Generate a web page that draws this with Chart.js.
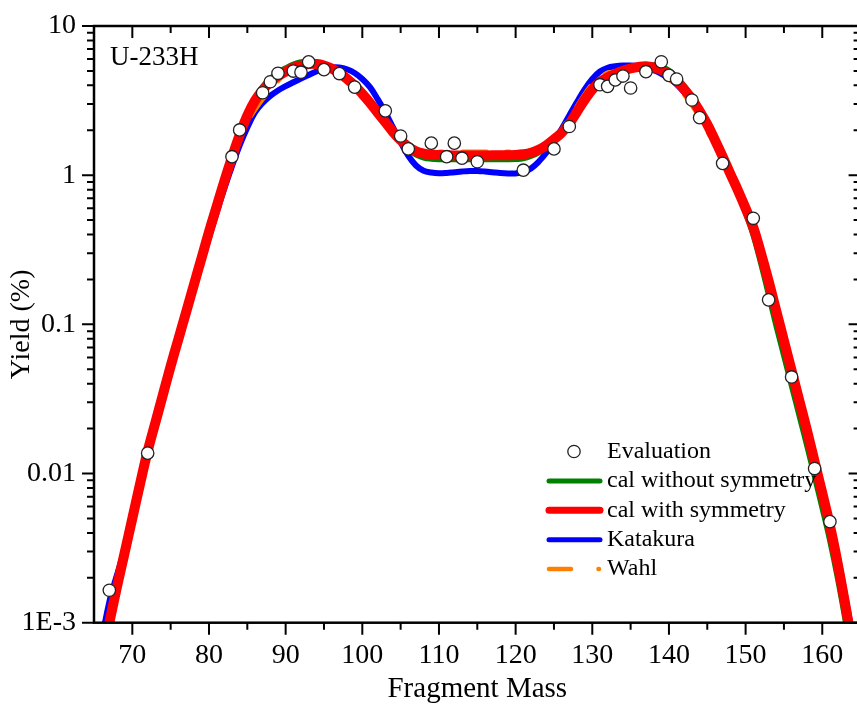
<!DOCTYPE html>
<html>
<head>
<meta charset="utf-8">
<title>U-233H fragment mass yields</title>
<script src="https://cdn.jsdelivr.net/npm/chart.js@4.4.1/dist/chart.umd.min.js"></script>
<style>
  html, body { margin: 0; padding: 0; background: #fff; overflow: hidden; }
  canvas { display: block; }
</style>
</head>
<body>
<canvas id="yieldChart" width="870" height="704"></canvas>
<script>
// Evaluated yields (open circles)
const evalMass = [67, 72, 83, 84, 87, 88, 89, 91, 92, 93, 95, 97, 99, 103, 105, 106, 109, 111, 112, 113, 115,
                  121, 125, 127, 131, 132, 133, 134, 135, 137, 139, 140, 141, 143, 144, 147, 151, 153, 156, 159, 161];
const evalYield = [0.00165, 0.0137, 1.33, 2.01, 3.57, 4.23, 4.82, 4.99, 4.90, 5.75, 5.10, 4.80, 3.89, 2.70, 1.83, 1.50, 1.64, 1.33, 1.64, 1.30, 1.23,
                   1.08, 1.50, 2.12, 4.04, 3.94, 4.35, 4.62, 3.84, 4.94, 5.76, 4.67, 4.41, 3.19, 2.43, 1.20, 0.514, 0.146, 0.0444, 0.0108, 0.00476];

// Mass grid shared by the calculated curves
const massGrid = [65, 66, 67, 68, 69, 70, 71, 72, 73, 74, 75, 76, 77, 78, 79, 80, 81, 82, 83, 84,
                  85, 86, 87, 88, 89, 90, 91, 92, 93, 94, 95, 96, 97, 98, 99, 100, 101, 102, 103, 104,
                  105, 106, 107, 108, 109, 110, 111, 112, 113, 114, 115, 116, 117, 118, 119, 120, 121, 122, 123, 124,
                  125, 126, 127, 128, 129, 130, 131, 132, 133, 134, 135, 136, 137, 138, 139, 140, 141, 142, 143, 144,
                  145, 146, 147, 148, 149, 150, 151, 152, 153, 154, 155, 156, 157, 158, 159, 160, 161, 162, 163, 164, 165];

const calWithSym = [0.00032, 0.00056, 0.0010, 0.00174, 0.00295, 0.0050, 0.0085, 0.0141, 0.0219, 0.0339, 0.0525, 0.0794, 0.120, 0.182, 0.275, 0.417, 0.617, 0.912, 1.318, 1.862,
                    2.512, 3.162, 3.715, 4.217, 4.624, 4.955, 5.248, 5.433, 5.559, 5.559, 5.433, 5.188, 4.842, 4.416, 3.981, 3.508, 3.055, 2.630, 2.265, 1.950,
                    1.718, 1.549, 1.445, 1.396, 1.374, 1.365, 1.358, 1.355, 1.355, 1.355, 1.355, 1.355, 1.358, 1.358, 1.361, 1.365, 1.380, 1.413, 1.479, 1.585,
                    1.738, 1.928, 2.213, 2.661, 3.199, 3.758, 4.217, 4.519, 4.786, 5.012, 5.188, 5.309, 5.370, 5.272, 5.070, 4.732, 4.266, 3.758, 3.236, 2.692,
                    2.188, 1.718, 1.334, 1.023, 0.790, 0.600, 0.447, 0.300, 0.195, 0.123, 0.0776, 0.0490, 0.0309, 0.0195, 0.0120, 0.00741, 0.00447, 0.00251, 0.00132, 0.00066, 0.00032];

const calWithoutSym = [0.00032, 0.00056, 0.0010, 0.00174, 0.00295, 0.0050, 0.0085, 0.0141, 0.0219, 0.0339, 0.0525, 0.0794, 0.120, 0.182, 0.275, 0.417, 0.617, 0.912, 1.318, 1.862,
                       2.630, 3.311, 3.936, 4.467, 4.898, 5.248, 5.559, 5.754, 5.821, 5.754, 5.559, 5.248, 4.842, 4.365, 3.890, 3.428, 2.985, 2.570, 2.213, 1.905,
                       1.660, 1.479, 1.365, 1.303, 1.279, 1.270, 1.270, 1.270, 1.270, 1.270, 1.270, 1.270, 1.270, 1.270, 1.270, 1.274, 1.288, 1.334, 1.413, 1.549,
                       1.738, 1.950, 2.239, 2.692, 3.236, 3.802, 4.266, 4.571, 4.842, 5.070, 5.248, 5.395, 5.495, 5.495, 5.370, 5.070, 4.571, 3.981, 3.388, 2.786,
                       2.239, 1.738, 1.303, 0.977, 0.760, 0.550, 0.390, 0.250, 0.155, 0.0955, 0.0603, 0.0380, 0.0240, 0.0151, 0.00933, 0.00575, 0.00347, 0.00195, 0.00102, 0.00051, 0.00025];

const katakura = [0.00040, 0.00076, 0.00138, 0.00209, 0.00309, 0.0049, 0.0083, 0.0138, 0.0214, 0.0331, 0.0513, 0.0776, 0.117, 0.174, 0.257, 0.380, 0.562, 0.813, 1.148, 1.585,
                  2.089, 2.630, 3.050, 3.400, 3.700, 3.950, 4.200, 4.450, 4.700, 4.955, 5.152, 5.272, 5.272, 5.129, 4.842, 4.416, 3.890, 3.236, 2.630, 2.089,
                  1.660, 1.349, 1.161, 1.072, 1.042, 1.030, 1.035, 1.047, 1.059, 1.067, 1.067, 1.059, 1.047, 1.035, 1.028, 1.028, 1.047, 1.109, 1.230, 1.413,
                  1.679, 2.042, 2.512, 3.090, 3.758, 4.416, 4.955, 5.248, 5.370, 5.433, 5.433, 5.370, 5.248, 5.047, 4.786, 4.467, 4.074, 3.589, 3.090, 2.600,
                  2.138, 1.679, 1.318, 1.000, 0.776, 0.589, 0.437, 0.295, 0.190, 0.120, 0.0759, 0.0479, 0.0302, 0.0195, 0.0126, 0.00794, 0.00490, 0.00282, 0.00151, 0.00079, 0.00040];

const wahl = [0.00032, 0.00056, 0.0010, 0.00174, 0.00295, 0.0050, 0.0085, 0.0141, 0.0219, 0.0339, 0.0525, 0.0794, 0.120, 0.182, 0.275, 0.417, 0.617, 0.912, 1.318, 1.862,
              2.290, 2.750, 3.240, 3.720, 4.300, 4.786, 5.070, 5.248, 5.370, 5.408, 5.346, 5.164, 4.898, 4.519, 4.121, 3.673, 3.199, 2.754, 2.344, 1.995,
              1.738, 1.567, 1.472, 1.435, 1.430, 1.430, 1.430, 1.430, 1.430, 1.430, 1.430, 1.430, 1.430, 1.430, 1.430, 1.430, 1.435, 1.460, 1.514, 1.622,
              1.799, 2.042, 2.399, 2.884, 3.467, 4.074, 4.519, 4.842, 5.070, 5.224, 5.297, 5.309, 5.248, 5.070, 4.786, 4.416, 3.981, 3.467, 2.951, 2.455,
              1.995, 1.585, 1.259, 1.023, 0.790, 0.600, 0.447, 0.300, 0.195, 0.123, 0.0776, 0.0490, 0.0309, 0.0195, 0.0120, 0.00741, 0.00447, 0.00251, 0.00132, 0.00066, 0.00032];

// Axis ticks
const xTickValues = [70, 80, 90, 100, 110, 120, 130, 140, 150, 160];
const xMinorTicks = [75, 85, 95, 105, 115, 125, 135, 145, 155];
const yTickValues = [0.001, 0.01, 0.1, 1, 10];
const yTickLabels = ['1E-3', '0.01', '0.1', '1', '10'];

const legendOrder = ['Evaluation', 'cal without symmetry', 'cal with symmetry', 'Katakura', 'Wahl'];

const SERIF = "'Liberation Serif', 'Times New Roman', serif";

function pairs(xs, ys) {
    return xs.map((m, i) => ({ x: m, y: ys[i] }));
}

// Origin-style frame: inward ticks on top/right, outward on bottom/left
const originFrame = {
    id: 'originFrame',
    afterDatasetsDraw(chart) {
        const { ctx, chartArea: a, scales: { x, y } } = chart;
        ctx.save();
        ctx.strokeStyle = '#000';
        ctx.lineWidth = 2;
        ctx.beginPath();
        const xTick = (v, len) => {
            const px = x.getPixelForValue(v);
            ctx.moveTo(px, a.bottom); ctx.lineTo(px, a.bottom + len);
            ctx.moveTo(px, a.top); ctx.lineTo(px, a.top + len);
        };
        xTickValues.forEach(v => xTick(v, 12));
        xMinorTicks.forEach(v => xTick(v, 7));
        const yTick = (v, len) => {
            const py = y.getPixelForValue(v);
            ctx.moveTo(a.left, py); ctx.lineTo(a.left - len, py);
            ctx.moveTo(a.right, py); ctx.lineTo(a.right - len, py);
        };
        yTickValues.forEach(v => yTick(v, 12));
        yTickValues.slice(0, -1).forEach(dec => {
            for (let k = 2; k <= 9; k++) yTick(dec * k, 7);
        });
        ctx.stroke();
        ctx.lineWidth = 2.5;
        ctx.strokeRect(a.left, a.top, a.right - a.left, a.bottom - a.top);
        ctx.restore();
    },
    afterDraw(chart) {
        const ctx = chart.ctx;
        ctx.save();
        ctx.fillStyle = '#000';
        ctx.font = '27px ' + SERIF;
        ctx.textBaseline = 'alphabetic';
        ctx.fillText('U-233H', 110, 65);

        // legend
        const legendWidth = { 'cal without symmetry': 5, 'cal with symmetry': 7, 'Katakura': 5, 'Wahl': 4.5 };
        ctx.font = '24px ' + SERIF;
        ctx.textBaseline = 'middle';
        legendOrder.forEach((label, i) => {
            const ds = chart.data.datasets.find(d => d.label === label);
            const ly = 451.5 + i * 29.4;
            if (ds.showLine === false) {
                ctx.beginPath();
                ctx.arc(574, ly, 6.2, 0, Math.PI * 2);
                ctx.fillStyle = ds.pointBackgroundColor;
                ctx.fill();
                ctx.lineWidth = ds.pointBorderWidth;
                ctx.strokeStyle = ds.pointBorderColor;
                ctx.stroke();
            } else {
                ctx.strokeStyle = ds.borderColor;
                ctx.lineWidth = legendWidth[label];
                ctx.lineCap = 'round';
                ctx.beginPath();
                if (ds.borderDash) {
                    ctx.moveTo(549, ly); ctx.lineTo(571, ly);
                    ctx.moveTo(598.5, ly); ctx.lineTo(599, ly);
                } else {
                    ctx.moveTo(549, ly); ctx.lineTo(600, ly);
                }
                ctx.stroke();
            }
            ctx.fillStyle = '#000';
            ctx.fillText(label, 607, ly);
        });
        ctx.restore();
    }
};

const curveStyle = { pointRadius: 0, tension: 0.4, clip: 0, borderCapStyle: 'round', borderJoinStyle: 'round', fill: false };

new Chart(document.getElementById('yieldChart'), {
    type: 'line',
    data: {
        datasets: [
            {
                label: 'Evaluation',
                data: pairs(evalMass, evalYield),
                showLine: false,
                pointRadius: 6.2,
                pointBackgroundColor: '#ffffff',
                pointBorderColor: '#222222',
                pointBorderWidth: 1.3,
                clip: false
            },
            { label: 'cal with symmetry', data: pairs(massGrid, calWithSym), borderColor: '#ff0000', borderWidth: 10, ...curveStyle },
            { label: 'Wahl', data: pairs(massGrid, wahl), borderColor: '#ff7f00', borderWidth: 5, borderDash: [24, 20, 3, 20], ...curveStyle },
            { label: 'cal without symmetry', data: pairs(massGrid, calWithoutSym), borderColor: '#008000', borderWidth: 5, ...curveStyle },
            { label: 'Katakura', data: pairs(massGrid, katakura), borderColor: '#0000ff', borderWidth: 6, ...curveStyle }
        ]
    },
    options: {
        responsive: false,
        devicePixelRatio: 1,
        animation: false,
        layout: { padding: { left: 0, right: 9.4, top: 26, bottom: 0 } },
        plugins: {
            legend: { display: false },
            tooltip: { enabled: false }
        },
        scales: {
            x: {
                type: 'linear',
                min: 65,
                max: 165,
                afterBuildTicks: s => { s.ticks = xTickValues.map(v => ({ value: v })); },
                afterFit: s => { s.height = 81.3; },
                grid: { display: false, drawTicks: false },
                border: { display: false },
                ticks: { color: '#000', font: { family: SERIF, size: 28 }, padding: 16, maxRotation: 0, autoSkip: false },
                title: { display: true, text: 'Fragment Mass', color: '#000', font: { family: SERIF, size: 29, lineHeight: 1 }, padding: { top: 0, bottom: 0.5 } }
            },
            y: {
                type: 'logarithmic',
                min: 0.001,
                max: 10,
                afterBuildTicks: s => { s.ticks = yTickValues.map(v => ({ value: v })); },
                // fixed width; the top/bottom label overflow is allowed to spill into the margins
                afterFit: s => { s.width = 94; s.paddingTop = 0; s.paddingBottom = 0; },
                grid: { display: false, drawTicks: false },
                border: { display: false },
                ticks: {
                    color: '#000',
                    font: { family: SERIF, size: 28 },
                    padding: 18,
                    callback: v => yTickLabels[yTickValues.indexOf(v)]
                },
                title: { display: true, text: 'Yield (%)', color: '#000', font: { family: SERIF, size: 28, lineHeight: 1 }, padding: { top: 8, bottom: 0 } }
            }
        }
    },
    plugins: [originFrame]
});
</script>
</body>
</html>
